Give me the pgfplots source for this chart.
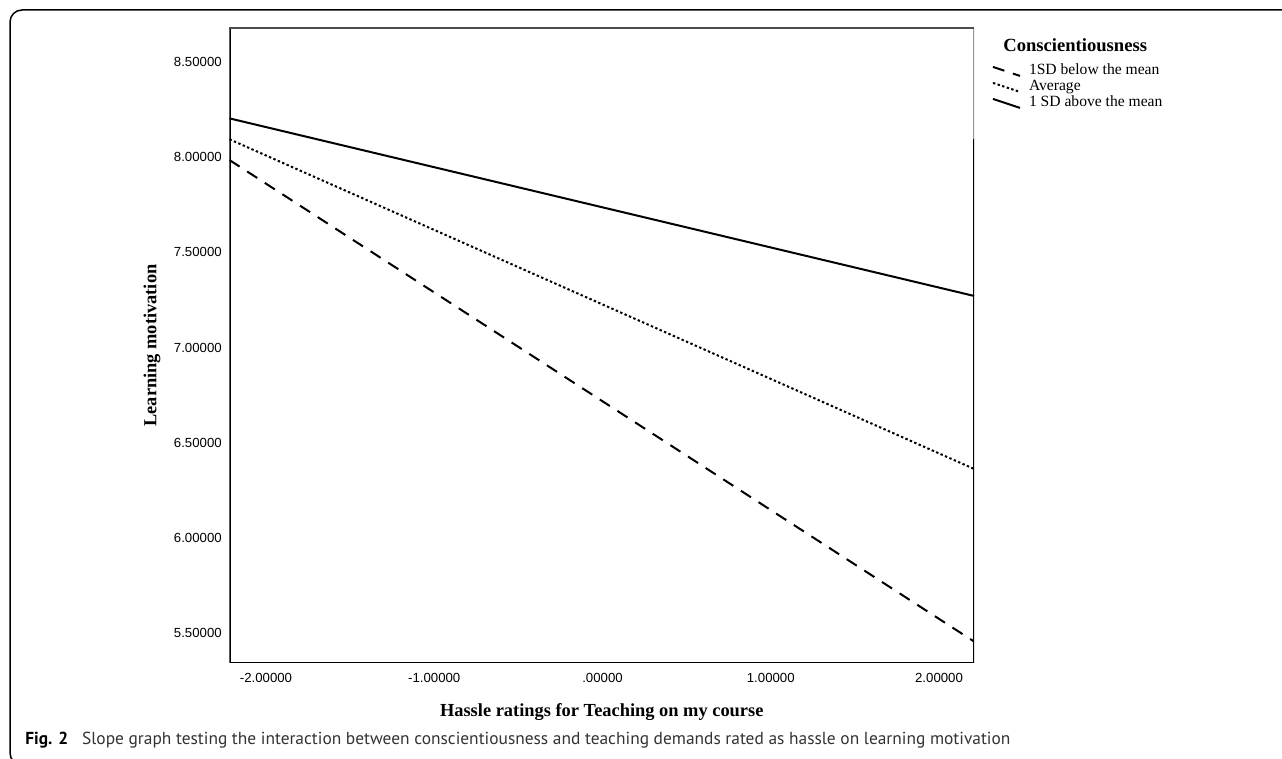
\documentclass[border=0pt]{standalone}
\usepackage{pgfplots}
\pgfplotsset{compat=1.18}
\usepackage{graphicx}
\usepackage{fontspec}
\setmainfont{Liberation Serif}
\newfontfamily\arialf{Liberation Sans}
\newfontfamily\capf{PT Sans}
\begin{document}
\begin{tikzpicture}[x=0.5pt,y=0.5pt]
\useasboundingbox (0,0) rectangle (1282,759);
\clip (0,0) rectangle (1282,759);
\draw[line width=0.75pt, rounded corners=6pt] (1300,749) -- (10,749) -- (10,-6) -- (1300,-6);
\begin{axis}[
  at={(114.75pt,48pt)}, anchor=south west,
  width=372.25pt, height=317.5pt, scale only axis,
  xmin=-2.217, xmax=2.208, ymin=5.342, ymax=8.679,
  axis line style={draw=none},
  major tick length=0pt,
  xtick={-2,-1,0,1,2},
  xticklabels={-2.00000,-1.00000,.00000,1.00000,2.00000},
  ytick={5.5,6,6.5,7,7.5,8,8.5},
  yticklabels={5.50000,6.00000,6.50000,7.00000,7.50000,8.00000,8.50000},
  ticklabel style={font=\arialf\fontsize{6.6}{7}\selectfont, inner sep=0pt},
  xticklabel style={anchor=north, yshift=-5pt},
  yticklabel style={anchor=east, xshift=-3.7pt},
  xlabel={Hassle ratings for Teaching on my course},
  ylabel={Learning motivation},
  label style={font=\bfseries\fontsize{9.2}{11}\selectfont},
  xlabel style={at={(axis description cs:0.5,-0.0835)}, anchor=base},
  ylabel style={at={(axis description cs:-0.104,0.5)}, anchor=center},
  legend cell align=left,
  legend image code/.code={\draw[#1] (0pt,2pt) -- (13.5pt,-2.5pt);},
  legend style={at={(axis description cs:1.0242,0.945)}, anchor=north west,
    draw=none, fill=none, inner sep=0pt, outer sep=0pt, row sep=0pt, column sep=4pt,
    font=\fontsize{7.8}{8}\selectfont,
    nodes={inner sep=0pt, text height=6pt, text depth=2pt}},
]
\addplot[black, line width=1pt, dash pattern=on 6pt off 4.5pt] coordinates {(-2.217,7.985) (2.208,5.455)};
\addlegendentry{1SD below the mean}
\addplot[black, line width=1pt, dash pattern=on 1.2pt off 1.2pt] coordinates {(-2.217,8.094) (2.208,6.362)};
\addlegendentry{Average}
\addplot[black, line width=1pt] coordinates {(-2.217,8.204) (2.208,7.271)};
\addlegendentry{1 SD above the mean}
\draw[line width=1.2pt, black, line cap=rect] (rel axis cs:0,1) -- (rel axis cs:0,0) -- (rel axis cs:1,0) -- (rel axis cs:1,0.825);
\draw[line width=1.1pt, black!40] (rel axis cs:1,0.825) -- (rel axis cs:1,1);
\draw[line width=1.1pt, black!70] (rel axis cs:1,1) -- (rel axis cs:0,1);
\end{axis}
\node[anchor=base west, inner sep=0pt, font=\bfseries\fontsize{9.3}{11}\selectfont] at (1003,707) {Conscientiousness};
\node[anchor=base west, inner sep=0pt] at (25,14) {\resizebox{492.5pt}{!}{\capf\textbf{Fig. 2}\hspace{0.8em}\color{black!80}Slope graph testing the interaction between conscientiousness and teaching demands rated as hassle on learning motivation}};
\end{tikzpicture}
\end{document}
